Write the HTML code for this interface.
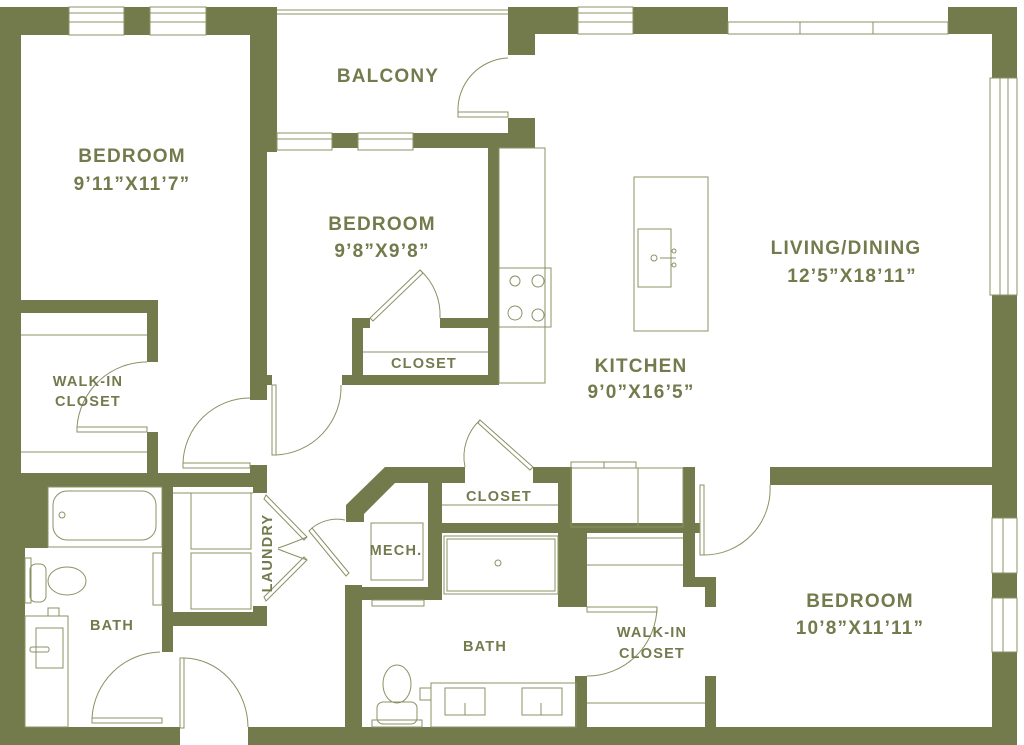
<!DOCTYPE html>
<html><head><meta charset="utf-8"><style>
html,body{margin:0;padding:0;background:#fff;}
svg{display:block}
text{font-family:"Liberation Sans",sans-serif;fill:#737a4c;font-weight:bold;letter-spacing:1.2px;text-anchor:middle}
</style></head><body>
<svg width="1024" height="745" viewBox="0 0 1024 745" xmlns="http://www.w3.org/2000/svg">
<g fill="#737a4c">
<rect x="0" y="7" width="21" height="738"/>
<rect x="0" y="7" width="277" height="28"/>
<rect x="250" y="7" width="27" height="145"/>
<rect x="250" y="150" width="17" height="250"/>
<rect x="266" y="375" width="6" height="10"/>
<rect x="21" y="300" width="137" height="13"/>
<rect x="147" y="300" width="11" height="62"/>
<rect x="147" y="432" width="11" height="42"/>
<rect x="0" y="473" width="267" height="14"/>
<rect x="250" y="465" width="17" height="22"/>
<rect x="0" y="487" width="48" height="61"/>
<rect x="0" y="487" width="25" height="258"/>
<rect x="162" y="487" width="11" height="165"/>
<rect x="162" y="612" width="105" height="14"/>
<rect x="253" y="606" width="14" height="20"/>
<rect x="253" y="487" width="14" height="6"/>
<rect x="0" y="727" width="180" height="18"/>
<rect x="248" y="727" width="769" height="18"/>
<rect x="508" y="7" width="220" height="27"/>
<rect x="508" y="7" width="27" height="48"/>
<rect x="265" y="133" width="270" height="15"/>
<rect x="508" y="118" width="27" height="30"/>
<rect x="488" y="148" width="11" height="237"/>
<rect x="440" y="318" width="59" height="10"/>
<rect x="342" y="375" width="157" height="10"/>
<rect x="352" y="318" width="11" height="67"/>
<rect x="352" y="318" width="18" height="10"/>
<rect x="948" y="7" width="69" height="27"/>
<rect x="992" y="7" width="25" height="71"/>
<rect x="992" y="295" width="25" height="450"/>
<rect x="770" y="467" width="230" height="18"/>
<polygon points="346,522 346,505 385,467 465,467 465,483 395,483 364,514 364,522"/>
<rect x="428" y="467" width="14" height="133"/>
<rect x="428" y="523" width="272" height="10"/>
<rect x="362" y="587" width="80" height="13"/>
<rect x="345" y="585" width="17" height="160"/>
<rect x="533" y="467" width="39" height="16"/>
<rect x="558" y="467" width="14" height="66"/>
<rect x="558" y="523" width="29" height="84"/>
<rect x="683" y="467" width="12" height="120"/>
<rect x="683" y="577" width="33" height="10"/>
<rect x="705" y="577" width="11" height="30"/>
<rect x="705" y="676" width="11" height="51"/>
<rect x="575" y="676" width="12" height="51"/>
</g>
<g fill="#fff" stroke="#8c9165" stroke-width="1">
<rect x="69" y="7" width="55" height="28"/><line x1="69" y1="13" x2="124" y2="13"/><line x1="69" y1="22" x2="124" y2="22"/>
<rect x="150" y="7" width="56" height="28"/><line x1="150" y1="13" x2="206" y2="13"/><line x1="150" y1="22" x2="206" y2="22"/>
<rect x="578" y="7" width="55" height="27"/><line x1="578" y1="13" x2="633" y2="13"/><line x1="578" y1="22" x2="633" y2="22"/>
<rect x="728" y="22" width="220" height="12"/><line x1="800" y1="22" x2="800" y2="34"/><line x1="873" y1="22" x2="873" y2="34"/>
<rect x="990" y="78" width="27" height="217"/><line x1="1000" y1="78" x2="1000" y2="295"/><line x1="1008" y1="78" x2="1008" y2="295"/>
<rect x="277" y="133" width="55" height="17"/><line x1="277" y1="139" x2="332" y2="139"/>
<rect x="358" y="133" width="55" height="17"/><line x1="358" y1="139" x2="413" y2="139"/>
<rect x="992" y="518" width="25" height="55"/><line x1="1003" y1="518" x2="1003" y2="573"/>
<rect x="992" y="598" width="25" height="54"/><line x1="1003" y1="598" x2="1003" y2="652"/>
</g>
<g fill="none" stroke="#8c9165" stroke-width="1">
<line x1="277" y1="10" x2="508" y2="10"/><line x1="277" y1="14" x2="508" y2="14"/>
<rect x="499" y="148" width="46" height="235"/>
<rect x="499" y="268" width="52" height="59"/>
<circle cx="515" cy="281" r="5"/><circle cx="538" cy="281" r="6"/><circle cx="515" cy="313" r="7"/><circle cx="538" cy="315" r="6"/>
<rect x="634" y="177" width="74" height="154"/>
<rect x="638" y="229" width="33" height="58"/>
<circle cx="654" cy="258" r="3"/><circle cx="674" cy="251" r="2"/><circle cx="674" cy="265" r="2"/><line x1="660" y1="258" x2="676" y2="258"/>
<line x1="363" y1="352" x2="488" y2="352"/>
<line x1="21" y1="335" x2="147" y2="335"/>
<line x1="21" y1="452" x2="147" y2="452"/>
<line x1="442" y1="505" x2="558" y2="505"/>
<line x1="587" y1="565" x2="683" y2="565"/>
<line x1="587" y1="703" x2="705" y2="703"/>
<line x1="587" y1="538" x2="683" y2="538"/>
<rect x="571" y="468" width="67" height="59"/><rect x="571" y="462" width="65" height="6"/><line x1="604" y1="462" x2="604" y2="468"/>
<rect x="638" y="468" width="45" height="59"/>
<rect x="371" y="523" width="52" height="57"/>
<rect x="444" y="536" width="114" height="58"/><rect x="447" y="539" width="108" height="52"/><circle cx="498" cy="563" r="3"/>
<rect x="191" y="493" width="60" height="56"/><rect x="191" y="553" width="60" height="56"/>
<line x1="173" y1="493" x2="253" y2="493"/>
<rect x="48" y="487" width="114" height="60"/>
<rect x="53" y="491" width="103" height="49" rx="14"/>
<circle cx="62" cy="515" r="3"/>
<rect x="25" y="558" width="6" height="45"/><rect x="30" y="564" width="16" height="38" rx="6"/>
<ellipse cx="67" cy="581" rx="19" ry="14"/>
<rect x="25" y="616" width="43" height="111"/><rect x="36" y="628" width="27" height="40"/><rect x="30" y="647" width="19" height="5" rx="2"/>
<rect x="48" y="608" width="11" height="8"/>
<rect x="153" y="553" width="9" height="52"/>
<ellipse cx="397" cy="684" rx="14" ry="19"/>
<rect x="377" y="702" width="40" height="22" rx="6"/><rect x="372" y="720" width="50" height="7"/>
<rect x="431" y="683" width="145" height="44"/>
<rect x="445" y="688" width="40" height="27"/><rect x="522" y="688" width="40" height="27"/>
<rect x="420" y="688" width="11" height="12"/>
<line x1="465" y1="703" x2="465" y2="715"/><line x1="541" y1="703" x2="541" y2="715"/>
<rect x="372" y="600" width="52" height="6"/>
<rect x="458" y="112" width="50" height="5"/><path d="M458 112 A52 52 0 0 1 508 58"/>
<rect x="183" y="463" width="67" height="5"/><path d="M183 463 A67 67 0 0 1 250 398"/>
<rect x="272" y="385" width="4" height="70"/><path d="M276 455 A68 68 0 0 0 341 385"/>
<rect x="77" y="427" width="70" height="5"/><path d="M77 427 A70 70 0 0 1 147 362"/>
<rect x="92" y="718" width="70" height="5"/><path d="M92 718 A70 70 0 0 1 160 652"/>
<rect x="180" y="658" width="4" height="70"/><path d="M184 658 A65 70 0 0 1 248 727"/>
<path d="M370 318 L420 270 L423 273 L373 321 Z"/><path d="M420 270 A60 60 0 0 1 440 318"/>
<path d="M480 420 L533 467 L530 470 L478 423 Z"/><path d="M480 420 A50 50 0 0 0 465 467"/>
<rect x="587" y="607" width="70" height="5"/><path d="M657 607 A70 70 0 0 1 587 676"/>
<rect x="700" y="485" width="4" height="70"/><path d="M704 555 A66 66 0 0 0 770 485"/>
<path d="M266 495 L307 537 L304 540 L264 499 Z"/><path d="M266 601 L307 560 L304 557 L264 597 Z"/>
<path d="M307 537 Q285 546 278 548"/><path d="M307 560 Q285 552 278 549"/>
<path d="M312 528 L349 573 L346 576 L309 531 Z"/><path d="M312 528 A40 40 0 0 1 345 520"/>
</g>
<text x="132" y="162" font-size="19">BEDROOM</text>
<text x="132" y="190" font-size="19">9’11”X11’7”</text>
<text x="388" y="82" font-size="19">BALCONY</text>
<text x="382" y="230" font-size="19">BEDROOM</text>
<text x="382" y="257" font-size="19">9’8”X9’8”</text>
<text x="424" y="368" font-size="14.5">CLOSET</text>
<text x="846" y="254" font-size="19">LIVING/DINING</text>
<text x="852" y="282" font-size="19">12’5”X18’11”</text>
<text x="641" y="372" font-size="19">KITCHEN</text>
<text x="641" y="398" font-size="19">9’0”X16’5”</text>
<text x="88" y="386" font-size="14.5">WALK-IN</text>
<text x="88" y="406" font-size="14.5">CLOSET</text>
<text x="499" y="501" font-size="14.5">CLOSET</text>
<text x="396" y="555" font-size="14.5">MECH.</text>
<text x="112" y="630" font-size="14.5">BATH</text>
<text x="485" y="651" font-size="14.5">BATH</text>
<text x="652" y="637" font-size="14.5">WALK-IN</text>
<text x="652" y="658" font-size="14.5">CLOSET</text>
<text x="860" y="607" font-size="19">BEDROOM</text>
<text x="860" y="634" font-size="19">10’8”X11’11”</text>
<text x="0" y="0" font-size="14.5" transform="translate(272,553) rotate(-90)">LAUNDRY</text>
</svg>
</body></html>
